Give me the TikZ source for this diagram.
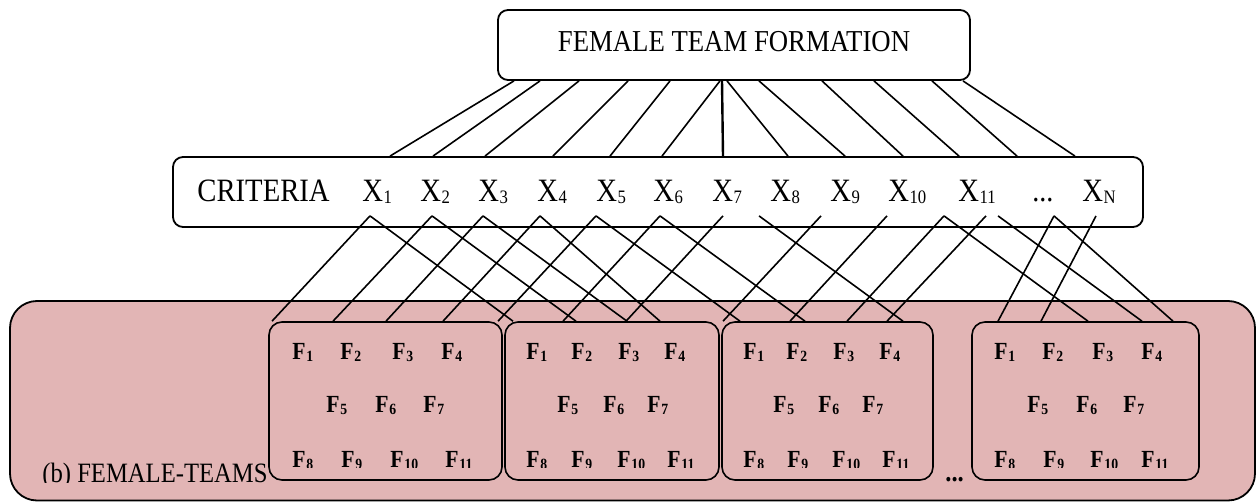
\documentclass[tikz,border=0pt]{standalone}
\usepackage{fontspec}
\setmainfont{Liberation Serif}[FakeStretch=0.88]
\usetikzlibrary{calc}
\definecolor{teampink}{RGB}{226,181,181}
\newcommand\Xl[1]{X\kern0.2pt\lower0.6pt\hbox{\fontsize{9.5}{10}\selectfont #1}}
\newcommand\Fl[1]{\textbf{F}\kern0.4pt\lower1pt\hbox{\fontsize{7.8}{8}\selectfont\bfseries #1}}
\begin{document}
\begin{tikzpicture}[x=0.5pt,y=-0.5pt,
  box/.style={draw, line width=0.9pt, rounded corners=5pt, inner sep=0pt, fill=white},
  team/.style={draw, line width=0.8pt, rounded corners=6.5pt, inner sep=0pt, fill=teampink, minimum height=79pt},
  conn/.style={line width=0.8pt},
  txt/.style={inner sep=0pt, anchor=base west},
  ftxt/.style={inner sep=0pt, anchor=base west, font=\fontsize{12.3}{14}\selectfont\bfseries}]
\useasboundingbox (0,0) rectangle (1258,502);

% top box
\node[box, minimum width=236pt, minimum height=35pt] (top) at (734,45) {};
\node[inner sep=0pt, anchor=base, font=\fontsize{15.2}{18}\selectfont] (title) at (734,52) {FEMALE TEAM FORMATION};

% criteria box
\node[box, minimum width=485pt, minimum height=35pt] (crit) at (658,192) {};
\node[txt, font=\fontsize{16.3}{19}\selectfont] (critlab) at (197,202) {CRITERIA};
\foreach \x/\s [count=\i] in {362/1,420/2,478/3,537/4,596/5,653/6,712/7,770/8,830/9,888/10,958/11,1082/N}
  \node[txt, font=\fontsize{16.3}{19}\selectfont] (x\i) at (\x,202) {\Xl{\s}};
\node[txt, font=\fontsize{16}{19}\selectfont] (xdots) at (1032,202) {...};

% outer teams box
\node[draw, line width=0.9pt, rounded corners=13.5pt, fill=teampink, inner sep=0pt,
      minimum width=622.5pt, minimum height=99.75pt] (teams) at (632.5,400.75) {};
\begin{scope}
  \clip (0,0) rectangle (1258,482);
  \node[txt, font=\fontsize{14}{17}\selectfont] (blabel) at (42,482) {(b) FEMALE-TEAMS};
\end{scope}

% inner team boxes
\node[team, minimum width=116.5pt] (b1) at (385.5,401) {};
\node[team, minimum width=107pt] (b2) at (612,401) {};
\node[team, minimum width=105.5pt] (b3) at (827.5,401) {};
\node[team, minimum width=113.5pt] (b4) at (1085.5,401) {};

\foreach \bx/\ra/\rb/\rc/\rd/\sa/\sb/\sc/\ta/\tb/\tc/\td in {
  1/292/340/392/441/326/375/423/292/341/390/445,
  2/526/571/618/664/557/603/647/526/571/617/667,
  3/743/786/833/879/773/818/862/743/787/832/882,
  4/994/1042/1092/1141/1027/1076/1123/994/1043/1090/1141}{
  \node[ftxt] (f\bx-1) at (\ra,359) {\Fl{1}};
  \node[ftxt] (f\bx-2) at (\rb,359) {\Fl{2}};
  \node[ftxt] (f\bx-3) at (\rc,359) {\Fl{3}};
  \node[ftxt] (f\bx-4) at (\rd,359) {\Fl{4}};
  \node[ftxt] (f\bx-5) at (\sa,412) {\Fl{5}};
  \node[ftxt] (f\bx-6) at (\sb,412) {\Fl{6}};
  \node[ftxt] (f\bx-7) at (\sc,412) {\Fl{7}};
  \begin{scope}
    \clip (0,0) rectangle (1258,467.5);
    \node[ftxt] (f\bx-8) at (\ta,467) {\Fl{8}};
    \node[ftxt] (f\bx-9) at (\tb,467) {\Fl{9}};
    \node[ftxt] (f\bx-10) at (\tc,467) {\Fl{10}};
    \node[ftxt] (f\bx-11) at (\td,467) {\Fl{11}};
  \end{scope}
}
\node[txt, font=\fontsize{14}{17}\selectfont\bfseries] (bdots) at (945,481.5) {...};

% connectors: formation -> criteria
\foreach \a/\b in {514/390,540/433,579/485,628/553,670/610,720/662,727/788,759/845,822/903,874/959,932/1017,963/1075}
  \draw[conn] (\a,0 |- top.south) -- (\b,0 |- crit.north);
\draw[line width=1.2pt] (722,0 |- top.south) -- (723,0 |- crit.north);

% connectors: criteria -> teams
\foreach \a/\b in {370/272,432/333,483/386,540/443,596/498,660/563,723/626,821/723,887/790,944/847,986/887,1054/998,1096/1041,
                   370/513,432/576,483/627,540/660,596/740,660/805,759/903,944/1088,998/1142,1054/1173}
  \draw[conn] ($(\a,0 |- crit.south)+(0,-12)$) -- (\b,0 |- b1.north);
\end{tikzpicture}
\end{document}
